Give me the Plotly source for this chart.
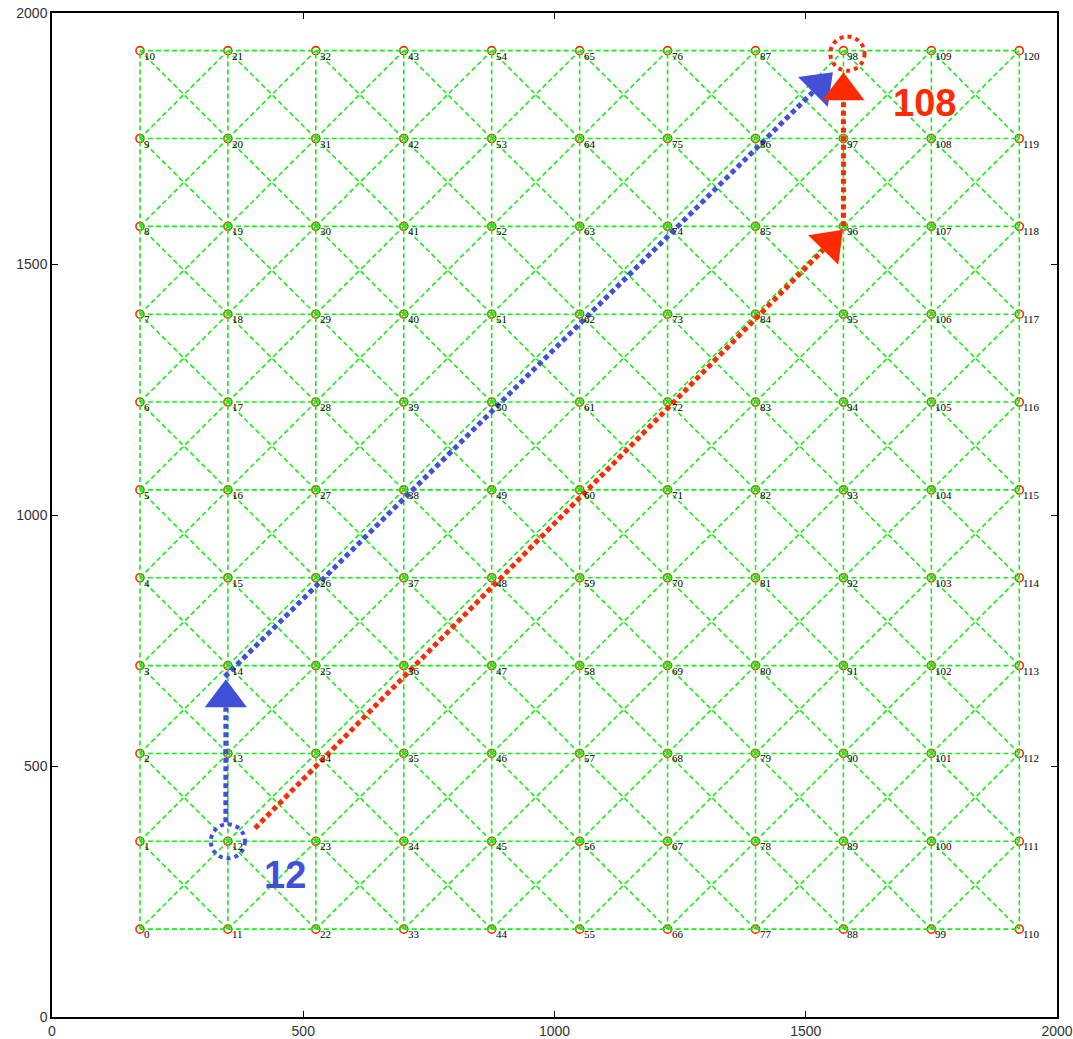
import plotly.graph_objects as go

# ---- data ----
grid_pos = [175, 350, 525, 700, 875, 1050, 1225, 1400, 1575, 1750, 1925]
n_side = 11
node_ids = list(range(121))
node_col = [i // n_side for i in node_ids]
node_row = [i % n_side for i in node_ids]
node_x = [grid_pos[c] for c in node_col]
node_y = [grid_pos[r] for r in node_row]

blue_path = [12, 13, 14, 26, 38, 50, 62, 74, 86, 98]
red_path = [12, 24, 36, 48, 60, 72, 84, 96, 97, 98]
source_label = "12"
dest_label = "108"
tick_vals = [0, 500, 1000, 1500, 2000]

BLUE = "#4150d6"
RED = "#ff2a00"
GREEN = "#14ee14"

fig = go.Figure()

# node markers (red open circles, under the mesh)
fig.add_trace(go.Scatter(x=node_x, y=node_y, mode="markers",
                         marker=dict(symbol="circle-open", size=8, color=RED,
                                     line=dict(width=1.6, color=RED)),
                         hoverinfo="skip"))

# mesh edges: right, up, up-right, up-left neighbours
ex, ey = [], []
def nid(c, r):
    return c * n_side + r
for i in node_ids:
    c, r = node_col[i], node_row[i]
    for dc, dr in [(1, 0), (0, 1), (1, 1), (-1, 1)]:
        c2, r2 = c + dc, r + dr
        if 0 <= c2 < n_side and 0 <= r2 < n_side:
            j = nid(c2, r2)
            ex += [node_x[i], node_x[j], None]
            ey += [node_y[i], node_y[j], None]
fig.add_trace(go.Scatter(x=ex, y=ey, mode="lines",
                         line=dict(color=GREEN, width=1.6, dash="5px,3px"),
                         hoverinfo="skip"))

annotations = []
for i in node_ids:
    annotations.append(dict(x=node_x[i], y=node_y[i], text=str(i), showarrow=False,
                            xanchor="left", yanchor="middle", xshift=2, yshift=-5,
                            font=dict(family="Liberation Serif", size=11, color="black")))

AH_L = 56   # arrow head length (data units)
AH_W = 42   # arrow head half width

def arrow(x0, y0, x1, y1, color):
    dx, dy = x1 - x0, y1 - y0
    ln = (dx * dx + dy * dy) ** 0.5
    ux, uy = dx / ln, dy / ln
    bx, by = x1 - ux * AH_L, y1 - uy * AH_L
    fig.add_trace(go.Scatter(x=[x0, bx], y=[y0, by], mode="lines",
                             line=dict(color=color, width=5, dash="5px,3.5px"),
                             hoverinfo="skip"))
    px, py = -uy, ux
    fig.add_trace(go.Scatter(x=[x1, bx + px * AH_W, bx - px * AH_W, x1],
                             y=[y1, by + py * AH_W, by - py * AH_W, y1],
                             mode="lines", fill="toself", fillcolor=color,
                             line=dict(color=color, width=0), hoverinfo="skip"))

R = 34  # highlight circle radius
s = blue_path[0]
m = blue_path[2]
t = blue_path[-1]
# blue: vertical 12 -> 14, then diagonal 14 -> 98
arrow(node_x[s] - 4, node_y[s] + R + 4, node_x[m] - 4, node_y[m] - 27, BLUE)
arrow(node_x[m] - 6, node_y[m] - 22, node_x[t] - 21, node_y[t] - 43, BLUE)

# red: diagonal 12 -> 96, then vertical 96 -> 98
rs = red_path[0]
rm = red_path[-3]
rt = red_path[-1]
arrow(node_x[rs] + 54, node_y[rs] + 26, node_x[rm] - 1, node_y[rm] - 7, RED)
arrow(node_x[rm], node_y[rm], node_x[rt], node_y[rt] - 43, RED)

shapes = [
    dict(type="circle", xref="x", yref="y",
         x0=node_x[s] - R, x1=node_x[s] + R, y0=node_y[s] - R, y1=node_y[s] + R,
         line=dict(color=BLUE, width=4, dash="dot")),
    dict(type="circle", xref="x", yref="y",
         x0=node_x[rt] + 8 - R, x1=node_x[rt] + 8 + R, y0=node_y[rt] - 6 - R, y1=node_y[rt] - 6 + R,
         line=dict(color=RED, width=4, dash="dot")),
]

annotations.append(dict(x=node_x[s], y=node_y[s], text=f"<b>{source_label}</b>", showarrow=False,
                        xanchor="center", yanchor="middle", xshift=57, yshift=-34,
                        font=dict(family="Liberation Sans", size=38, color=BLUE)))
annotations.append(dict(x=node_x[rt], y=node_y[rt], text=f"<b>{dest_label}</b>", showarrow=False,
                        xanchor="center", yanchor="middle", xshift=81, yshift=-52,
                        font=dict(family="Liberation Sans", size=38, color=RED)))

axis_common = dict(range=[0, 2000], tickvals=tick_vals, ticks="inside", ticklen=6,
                   tickcolor="black", tickwidth=1, mirror="allticks", showline=True,
                   linecolor="black", linewidth=1.5, showgrid=False, zeroline=False,
                   automargin=False,
                   tickfont=dict(family="Liberation Sans", size=14, color="#333333"))
fig.update_xaxes(**axis_common)
fig.update_yaxes(**axis_common)

fig.update_layout(width=1073, height=1039,
                  margin=dict(l=52, r=16, t=13, b=22),
                  plot_bgcolor="white", paper_bgcolor="white",
                  showlegend=False, shapes=shapes, annotations=annotations)

fig.write_html("out.html", config={"displayModeBar": False},
               post_script="document.body.style.margin='0';document.body.style.overflow='hidden';")
